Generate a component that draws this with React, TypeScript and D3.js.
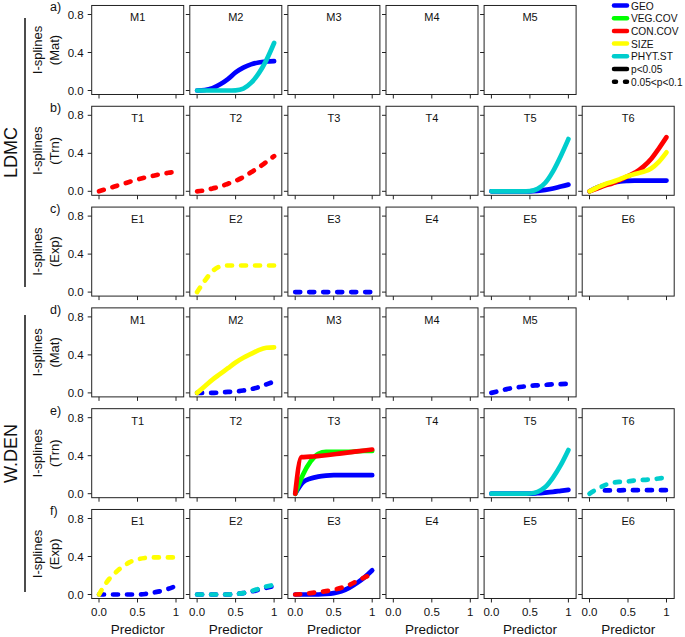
import React from "react";
import * as d3 from "d3";

// ---------- categories / labels ----------
const variables = ["GEO", "VEG.COV", "CON.COV", "SIZE", "PHYT.ST"];
const varColors = ["#0000FF", "#00FF00", "#FF0000", "#FFFF00", "#00CDCD"];
const sigLabels = ["p<0.05", "0.05<p<0.1"];
const rowLetters = ["a)", "b)", "c)", "d)", "e)", "f)"];
const rowTypes = ["(Mat)", "(Trn)", "(Exp)", "(Mat)", "(Trn)", "(Exp)"];
const rowPrefixes = ["M", "T", "E", "M", "T", "E"];
const rowPanelCounts = [5, 6, 6, 5, 6, 6];
const groupLabels = ["LDMC", "W.DEN"];
const xTicks = [0, 0.5, 1];
const xTickLabels = ["0.0", "0.5", "1"];
const yTicks = [0, 0.4, 0.8];
const yTickLabels = ["0.0", "0.4", "0.8"];

// ---------- series values (y at predictor = 0, 0.1, ..., 1) ----------
const X11 = [0, 0.1, 0.2, 0.3, 0.4, 0.5, 0.6, 0.7, 0.8, 0.9, 1];

const a_M2_GEO = [0, 0.005, 0.025, 0.065, 0.12, 0.19, 0.24, 0.275, 0.295, 0.305, 0.31];
const a_M2_PHYT = [0, 0, 0, 0, 0, 0.002, 0.02, 0.08, 0.18, 0.32, 0.5];

const b_T1_CON = [0, 0.025, 0.05, 0.075, 0.1, 0.125, 0.145, 0.163, 0.18, 0.195, 0.205];
const b_T2_CON = [0, 0.01, 0.03, 0.05, 0.08, 0.11, 0.15, 0.2, 0.25, 0.31, 0.37];
const b_T5_GEO = [0, 0, 0, 0, 0, 0, 0.005, 0.015, 0.03, 0.05, 0.07];
const b_T5_PHYT = [0, 0, 0, 0, 0, 0.002, 0.025, 0.09, 0.21, 0.37, 0.55];
const b_T6_GEO = [0, 0.04, 0.07, 0.09, 0.105, 0.11, 0.112, 0.113, 0.113, 0.113, 0.113];
const b_T6_CON = [0, 0.03, 0.06, 0.085, 0.12, 0.16, 0.2, 0.26, 0.34, 0.45, 0.57];
const b_T6_SIZE = [0, 0.04, 0.075, 0.1, 0.13, 0.16, 0.185, 0.205, 0.24, 0.31, 0.41];

const c_E2_SIZE = [0, 0.12, 0.22, 0.27, 0.28, 0.28, 0.28, 0.28, 0.28, 0.28, 0.28];
const c_E3_GEO = [0, 0, 0, 0, 0, 0, 0, 0, 0, 0, 0];

const d_M2_GEO = [0, 0, 0, 0.005, 0.01, 0.015, 0.025, 0.04, 0.06, 0.09, 0.12];
const d_M2_SIZE = [0, 0.07, 0.14, 0.2, 0.26, 0.32, 0.37, 0.41, 0.45, 0.475, 0.48];
const d_M5_GEO = [0, 0.02, 0.04, 0.055, 0.065, 0.075, 0.08, 0.085, 0.09, 0.093, 0.095];

const e_T3_GEO = [0, 0.12, 0.16, 0.18, 0.19, 0.195, 0.195, 0.195, 0.195, 0.195, 0.195];
const e_T3_VEG = [0, 0.2, 0.34, 0.42, 0.44, 0.44, 0.44, 0.44, 0.445, 0.45, 0.45];
const e_T3_CON_X = [0, 0.08, 0.2, 0.4, 0.6, 0.8, 1];
const e_T3_CON = [0, 0.385, 0.39, 0.405, 0.425, 0.445, 0.465];
const e_T5_GEO = [0, 0, 0, 0, 0, 0, 0.005, 0.012, 0.02, 0.03, 0.04];
const e_T5_PHYT = [0, 0, 0, 0, 0, 0.002, 0.02, 0.07, 0.17, 0.3, 0.46];
const e_T6_GEO_X = [0.2, 0.3, 0.4, 0.5, 0.6, 0.7, 0.8, 0.9, 1];
const e_T6_GEO = [0.035, 0.035, 0.036, 0.037, 0.037, 0.037, 0.037, 0.037, 0.037];
const e_T6_PHYT = [0, 0.05, 0.09, 0.115, 0.125, 0.13, 0.14, 0.145, 0.15, 0.16, 0.17];

const f_E1_GEO = [0, 0, 0, 0, 0, 0, 0.005, 0.02, 0.035, 0.06, 0.09];
const f_E1_SIZE = [0, 0.13, 0.22, 0.29, 0.34, 0.37, 0.385, 0.39, 0.39, 0.39, 0.39];
const f_E2_GEO = [0, 0, 0, 0, 0, 0.005, 0.015, 0.03, 0.05, 0.07, 0.09];
const f_E2_PHYT = [0, 0, 0, 0, 0, 0.005, 0.015, 0.035, 0.06, 0.085, 0.1];
const f_E3_GEO = [0, 0, 0, 0, 0.005, 0.015, 0.035, 0.07, 0.12, 0.18, 0.255];
const f_E3_CON = [0, 0.005, 0.015, 0.025, 0.035, 0.05, 0.07, 0.1, 0.14, 0.18, 0.21];

type Series = { row: number; col: number; v: number; sig: boolean; ys: number[]; xs?: number[] };

const series: Series[] = [
  { row: 0, col: 1, v: 0, sig: true, ys: a_M2_GEO },
  { row: 0, col: 1, v: 4, sig: true, ys: a_M2_PHYT },
  { row: 1, col: 0, v: 2, sig: false, ys: b_T1_CON },
  { row: 1, col: 1, v: 2, sig: false, ys: b_T2_CON },
  { row: 1, col: 4, v: 0, sig: true, ys: b_T5_GEO },
  { row: 1, col: 4, v: 4, sig: true, ys: b_T5_PHYT },
  { row: 1, col: 5, v: 0, sig: true, ys: b_T6_GEO },
  { row: 1, col: 5, v: 2, sig: true, ys: b_T6_CON },
  { row: 1, col: 5, v: 3, sig: true, ys: b_T6_SIZE },
  { row: 2, col: 1, v: 3, sig: false, ys: c_E2_SIZE },
  { row: 2, col: 2, v: 0, sig: false, ys: c_E3_GEO },
  { row: 3, col: 1, v: 0, sig: false, ys: d_M2_GEO },
  { row: 3, col: 1, v: 3, sig: true, ys: d_M2_SIZE },
  { row: 3, col: 4, v: 0, sig: false, ys: d_M5_GEO },
  { row: 4, col: 2, v: 0, sig: true, ys: e_T3_GEO },
  { row: 4, col: 2, v: 1, sig: true, ys: e_T3_VEG },
  { row: 4, col: 2, v: 2, sig: true, ys: e_T3_CON, xs: e_T3_CON_X },
  { row: 4, col: 4, v: 0, sig: true, ys: e_T5_GEO },
  { row: 4, col: 4, v: 4, sig: true, ys: e_T5_PHYT },
  { row: 4, col: 5, v: 0, sig: false, ys: e_T6_GEO, xs: e_T6_GEO_X },
  { row: 4, col: 5, v: 4, sig: false, ys: e_T6_PHYT },
  { row: 5, col: 0, v: 0, sig: false, ys: f_E1_GEO },
  { row: 5, col: 0, v: 3, sig: false, ys: f_E1_SIZE },
  { row: 5, col: 1, v: 0, sig: false, ys: f_E2_GEO },
  { row: 5, col: 1, v: 4, sig: false, ys: f_E2_PHYT },
  { row: 5, col: 2, v: 0, sig: true, ys: f_E3_GEO },
  { row: 5, col: 2, v: 2, sig: false, ys: f_E3_CON },
];

// ---------- layout ----------
const W = 685;
const H = 637;
const FONT = "'Liberation Sans', Arial, sans-serif";
const colLeft0 = 91.7;
const colStride = 98.1;
const panelW = 92;
const rowZero0 = 90.5;
const rowStride = 100.8;
const LW = 4.7;
const DASH = "5 9";

const xDomain: [number, number] = [-0.095, 1.1];
const yDomain: [number, number] = [-0.042, 0.895];

function xScaleFor(col: number) {
  const l = colLeft0 + colStride * col;
  return d3.scaleLinear().domain(xDomain).range([l, l + panelW]);
}
function yScaleFor(row: number) {
  const z = rowZero0 + rowStride * row;
  return d3.scaleLinear().domain([0, 0.8]).range([z, z - 76]);
}

export default function App() {
  const panels: React.ReactNode[] = [];
  for (let r = 0; r < 6; r++) {
    const y = yScaleFor(r);
    const top = y(yDomain[1]);
    const bottom = y(yDomain[0]);
    for (let c = 0; c < rowPanelCounts[r]; c++) {
      const x = xScaleFor(c);
      const left = x(xDomain[0]);
      const right = x(xDomain[1]);
      const lines = series.filter((s) => s.row === r && s.col === c);
      panels.push(
        <g key={`p${r}-${c}`}>
          <rect x={left} y={top} width={right - left} height={bottom - top} fill="white" stroke="#222" strokeWidth={1} />
          {yTicks.map((t) => (
            <line key={`yt${t}`} x1={left - 4} x2={left} y1={y(t)} y2={y(t)} stroke="#222" strokeWidth={1} />
          ))}
          {xTicks.map((t) => (
            <line key={`xt${t}`} x1={x(t)} x2={x(t)} y1={bottom} y2={bottom + 4} stroke="#222" strokeWidth={1} />
          ))}
          <text x={(left + right) / 2} y={top + 16} textAnchor="middle" fontSize={11} fontFamily={FONT} fill="#111">
            {rowPrefixes[r] + (c + 1)}
          </text>
          {lines.map((s, i) => {
            const xs = s.xs ?? X11;
            const gen = d3
              .line<number>()
              .x((_, k) => x(xs[k]))
              .y((v) => y(v))
              .curve(d3.curveMonotoneX);
            return (
              <path
                key={i}
                d={gen(s.ys) ?? ""}
                fill="none"
                stroke={varColors[s.v]}
                strokeWidth={LW}
                strokeLinecap="round"
                strokeLinejoin="round"
                strokeDasharray={s.sig ? undefined : DASH}
              />
            );
          })}
          {c === 0 &&
            yTicks.map((t, i) => (
              <text key={`yl${t}`} x={left - 8} y={y(t) + 4} textAnchor="end" fontSize={11.5} fontFamily={FONT} fill="#111">
                {yTickLabels[i]}
              </text>
            ))}
          {r === 5 &&
            xTicks.map((t, i) => (
              <text key={`xl${t}`} x={x(t)} y={bottom + 18} textAnchor="middle" fontSize={11.5} fontFamily={FONT} fill="#111">
                {xTickLabels[i]}
              </text>
            ))}
          {r === 5 && (
            <text x={(left + right) / 2} y={634} textAnchor="middle" fontSize={13.5} fontFamily={FONT} fill="#111">
              Predictor
            </text>
          )}
        </g>
      );
    }
    const midY = (top + bottom) / 2;
    panels.push(
      <g key={`rl${r}`}>
        <text x={50} y={top + 6} fontSize={12.5} fontFamily={FONT} fill="#111">
          {rowLetters[r]}
        </text>
        <text transform={`translate(${42},${midY}) rotate(-90)`} textAnchor="middle" fontSize={13} fontFamily={FONT} fill="#111">
          I-splines
        </text>
        <text transform={`translate(${59},${midY}) rotate(-90)`} textAnchor="middle" fontSize={13} fontFamily={FONT} fill="#111">
          {rowTypes[r]}
        </text>
      </g>
    );
  }

  const groupSpans: [number, number][] = [
    [18, 287],
    [315, 592],
  ];

  const legendY0 = 5.5;
  const legendStep = 12.7;
  const legendItems = [
    ...variables.map((v, i) => ({ label: v, color: varColors[i], dash: undefined as string | undefined })),
    { label: sigLabels[0], color: "#000", dash: undefined },
    { label: sigLabels[1], color: "#000", dash: "2 9" },
  ];

  return (
    <svg width={W} height={H} style={{ position: "absolute", left: 0, top: 0, background: "white" }}>
      <rect x={0} y={0} width={W} height={H} fill="white" />
      {panels}
      {groupSpans.map(([a, b], i) => (
        <g key={`g${i}`}>
          <line x1={25} x2={25} y1={a} y2={b} stroke="#111" strokeWidth={1.5} />
          <text
            transform={`translate(${17},${(a + b) / 2}) rotate(-90)`}
            textAnchor="middle"
            fontSize={18}
            fontFamily={FONT}
            fill="#111"
          >
            {groupLabels[i]}
          </text>
        </g>
      ))}
      {legendItems.map((it, i) => {
        const ly = legendY0 + legendStep * i;
        return (
          <g key={`lg${i}`}>
            <line
              x1={614}
              x2={627}
              y1={ly}
              y2={ly}
              stroke={it.color}
              strokeWidth={4.5}
              strokeLinecap="round"
              strokeDasharray={it.dash}
            />
            <text x={631} y={ly + 4} fontSize={10.2} fontFamily={FONT} fill="#111">
              {it.label}
            </text>
          </g>
        );
      })}
    </svg>
  );
}
